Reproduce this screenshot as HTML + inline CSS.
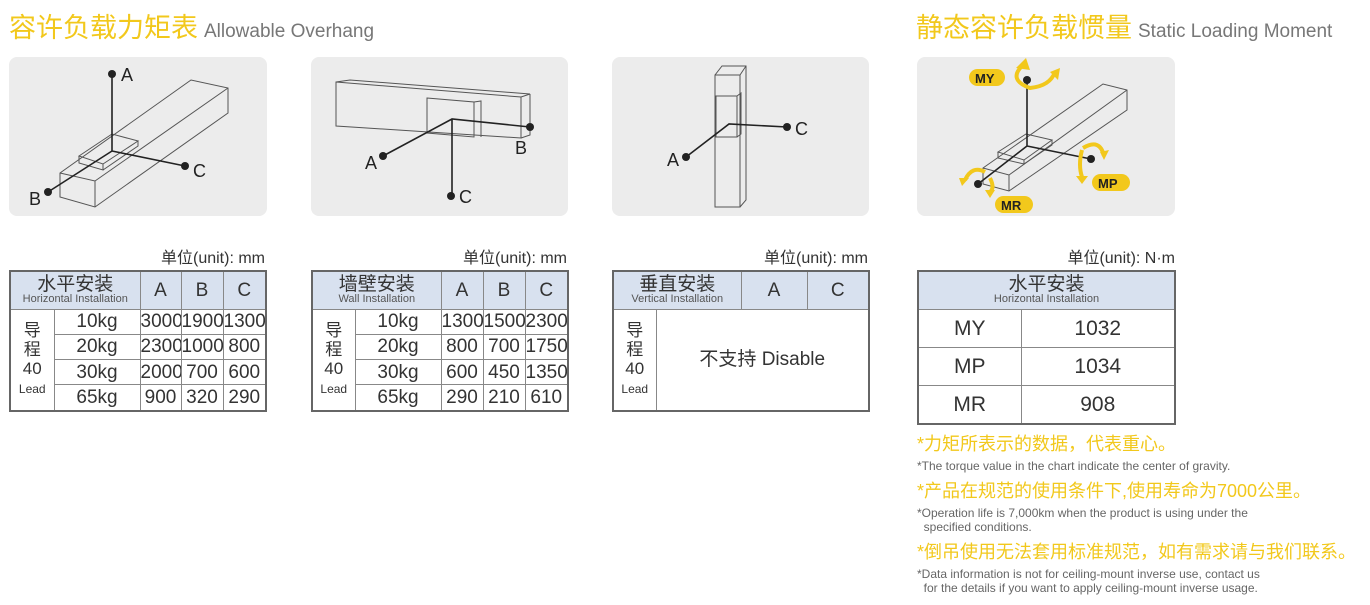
<!DOCTYPE html>
<html><head><meta charset="utf-8"><style>
body{margin:0;width:1370px;height:605px;background:#fff;position:relative;overflow:hidden;font-family:"Liberation Sans","Noto Sans CJK SC",sans-serif;color:#333}
.a{position:absolute}
.t{font-size:27px;color:#f2c81c;white-space:nowrap}
.t span{font-size:19px;color:#777;font-weight:normal;margin-left:6px}
.p{position:absolute;background:#ececec;border-radius:8px;top:57px;height:159px}
.u{position:absolute;font-size:16px;color:#333;top:244px;text-align:right;white-space:nowrap}
table{position:absolute;border-collapse:collapse;border:2px solid #666;top:270px;table-layout:fixed}
td{border:1px solid #888;text-align:center;font-size:19px;color:#333;padding:0;line-height:1;overflow:hidden;white-space:nowrap}
.h{background:#d8e1ef}
.h b{display:block;font-weight:normal;font-size:19px}
.h i{display:block;font-style:normal;font-size:11px;color:#555}
.note1{font-size:18px;color:#f2c81c;white-space:nowrap;line-height:22px}
.note2{font-size:12px;color:#666;line-height:14px}
svg{position:absolute;left:0;top:0}
</style></head><body>
<div class="a t" style="left:9px;top:6px">容许负载力矩表<span>Allowable Overhang</span></div>
<div class="a t" style="left:916px;top:6px">静态容许负载惯量<span>Static Loading Moment</span></div>
<div class="p" style="left:9px;width:258px"></div>
<div class="p" style="left:311px;width:257px"></div>
<div class="p" style="left:612px;width:257px"></div>
<div class="p" style="left:917px;width:258px"></div>
<svg width="1370" height="605" fill="none" stroke="#555" stroke-width="1">
<path d="M60,173 L191,80 L228,88 L228,113 L95,207 L60,197 Z M60,173 L95,181 L228,88 M95,181 L95,207"/>
<path d="M79,156 L112,134 L138,141 L103,164 Z M79,156 L79,163 L103,170 L103,164 M103,170 L138,146 L138,141"/>
<g stroke="#222" stroke-width="1.6"><path d="M112,74 V151 L185,166 M112,151 L48,192"/></g>
<g fill="#222" stroke="none"><circle cx="112" cy="74" r="4"/><circle cx="185" cy="166" r="4"/><circle cx="48" cy="192" r="4"/></g>
<path d="M336,82 L521,97 L521,138 L336,126 Z M336,82 L350,80 L530,94 L521,97 M530,94 L530,135 L521,138 M427,98 L474,102 L474,137 L427,133 Z M474,102 L481,101 L481,137"/>
<g stroke="#222" stroke-width="1.6"><path d="M383,156 L452,119 L530,127 M452,119 V196"/></g>
<g fill="#222" stroke="none"><circle cx="383" cy="156" r="4"/><circle cx="530" cy="127" r="4"/><circle cx="451" cy="196" r="4"/></g>
<path d="M715,75 L740,75 L740,207 L715,207 Z M715,75 L722,66 L746,66 L746,200 L740,207 M740,75 L746,66 M716,96 L737,96 L737,137 L716,137 Z M737,96 L741,93 L741,134 L737,137"/>
<g stroke="#222" stroke-width="1.6"><path d="M686,157 L729,124 L787,127"/></g>
<g fill="#222" stroke="none"><circle cx="686" cy="157" r="4"/><circle cx="787" cy="127" r="4"/></g>
<path d="M983,168 L1103,84 L1127,90 L1127,110 L1009,191 L983,184 Z M983,168 L1009,175 L1127,90 M1009,175 L1009,191"/>
<path d="M998,152 L1026,134 L1052,140 L1024,160 Z M998,152 L998,158 L1024,164 L1024,160 M1024,164 L1052,145 L1052,140"/>
<g stroke="#222" stroke-width="1.6"><path d="M1027,80 V146 L1091,159 M1027,146 L978,184"/></g>
<g fill="#222" stroke="none"><circle cx="1027" cy="80" r="4"/><circle cx="1091" cy="159" r="4"/><circle cx="978" cy="184" r="4"/></g>
<g stroke="#f2c81c" stroke-width="4"><path d="M1022,66 Q1008,80 1030,88 Q1050,86 1055,72"/><path d="M1083,148 Q1100,138 1104,156"/><path d="M1082,150 Q1078,165 1082,177"/><path d="M965,180 Q972,165 985,172"/><path d="M990,178 Q995,188 990,192"/></g>
<g fill="#f2c81c" stroke="none"><path d="M1016,68 L1026,58 L1030,70 Z M1050,72 L1060,68 L1058,80 Z M1100,152 L1109,150 L1104,160 Z M1076,176 L1088,176 L1082,184 Z M959,178 L969,178 L962,186 Z M985,190 L995,190 L990,198 Z"/>
<rect x="969" y="69" width="36" height="17" rx="8.5"/><rect x="1092" y="174" width="38" height="17" rx="8.5"/><rect x="995" y="196" width="38" height="17" rx="8.5"/></g>
<g fill="#222" stroke="none" font-family="Liberation Sans" font-size="18"><text x="121" y="81">A</text><text x="193" y="177">C</text><text x="29" y="205">B</text>
<text x="365" y="169">A</text><text x="515" y="154">B</text><text x="459" y="203">C</text>
<text x="667" y="166">A</text><text x="795" y="135">C</text></g>
<g fill="#222" stroke="none" font-family="Liberation Sans" font-weight="bold" font-size="13"><text x="975" y="83">MY</text><text x="1098" y="188">MP</text><text x="1001" y="210">MR</text></g>
</svg>
<div class="u" style="left:9px;width:256px">单位(unit): mm</div>
<div class="u" style="left:311px;width:256px">单位(unit): mm</div>
<div class="u" style="left:612px;width:256px">单位(unit): mm</div>
<div class="u" style="left:917px;width:258px">单位(unit): N·m</div>

<table style="left:9px;width:256px;height:142px">
<colgroup><col style="width:44px"><col style="width:86px"><col style="width:41px"><col style="width:42px"><col style="width:43px"></colgroup>
<tr style="height:38px"><td class="h" colspan="2"><b>水平安装</b><i>Horizontal Installation</i></td><td class="h">A</td><td class="h">B</td><td class="h">C</td></tr>
<tr><td rowspan="4" style="font-size:17px;line-height:19px">导<br>程<br>40<br><span style="font-size:12px">Lead</span></td><td>10kg</td><td>3000</td><td>1900</td><td>1300</td></tr>
<tr><td>20kg</td><td>2300</td><td>1000</td><td>800</td></tr>
<tr><td>30kg</td><td>2000</td><td>700</td><td>600</td></tr>
<tr><td>65kg</td><td>900</td><td>320</td><td>290</td></tr></table>

<table style="left:311px;width:256px;height:142px">
<colgroup><col style="width:43px"><col style="width:86px"><col style="width:42px"><col style="width:42px"><col style="width:43px"></colgroup>
<tr style="height:38px"><td class="h" colspan="2"><b>墙壁安装</b><i>Wall Installation</i></td><td class="h">A</td><td class="h">B</td><td class="h">C</td></tr>
<tr><td rowspan="4" style="font-size:17px;line-height:19px">导<br>程<br>40<br><span style="font-size:12px">Lead</span></td><td>10kg</td><td>1300</td><td>1500</td><td>2300</td></tr>
<tr><td>20kg</td><td>800</td><td>700</td><td>1750</td></tr>
<tr><td>30kg</td><td>600</td><td>450</td><td>1350</td></tr>
<tr><td>65kg</td><td>290</td><td>210</td><td>610</td></tr></table>

<table style="left:612px;width:256px;height:142px">
<colgroup><col style="width:43px"><col style="width:85px"><col style="width:66px"><col style="width:62px"></colgroup>
<tr style="height:38px"><td class="h" colspan="2"><b>垂直安装</b><i>Vertical Installation</i></td><td class="h">A</td><td class="h">C</td></tr>
<tr><td style="font-size:17px;line-height:19px">导<br>程<br>40<br><span style="font-size:12px">Lead</span></td><td colspan="3">不支持 Disable</td></tr></table>

<table style="left:917px;width:257px;height:155px">
<colgroup><col style="width:103px"><col style="width:154px"></colgroup>
<tr style="height:38px"><td class="h" colspan="2"><b>水平安装</b><i>Horizontal Installation</i></td></tr>
<tr><td style="font-size:21px">MY</td><td style="font-size:21px">1032</td></tr>
<tr><td style="font-size:21px">MP</td><td style="font-size:21px">1034</td></tr>
<tr><td style="font-size:21px">MR</td><td style="font-size:21px">908</td></tr></table>

<div class="a" style="left:917px;top:433px">
<div class="note1">*力矩所表示的数据，代表重心。</div>
<div class="note2" style="margin-top:4px">*The torque value in the chart indicate the center of gravity.</div>
<div class="note1" style="margin-top:7px">*产品在规范的使用条件下,使用寿命为7000公里。</div>
<div class="note2" style="margin-top:4px">*Operation life is 7,000km when the product is using under the<br>&nbsp;&nbsp;specified conditions.</div>
<div class="note1" style="margin-top:7px">*倒吊使用无法套用标准规范，如有需求请与我们联系。</div>
<div class="note2" style="margin-top:4px">*Data information is not for ceiling-mount inverse use, contact us<br>&nbsp;&nbsp;for the details if you want to apply ceiling-mount inverse usage.</div>
</div>
</body></html>
